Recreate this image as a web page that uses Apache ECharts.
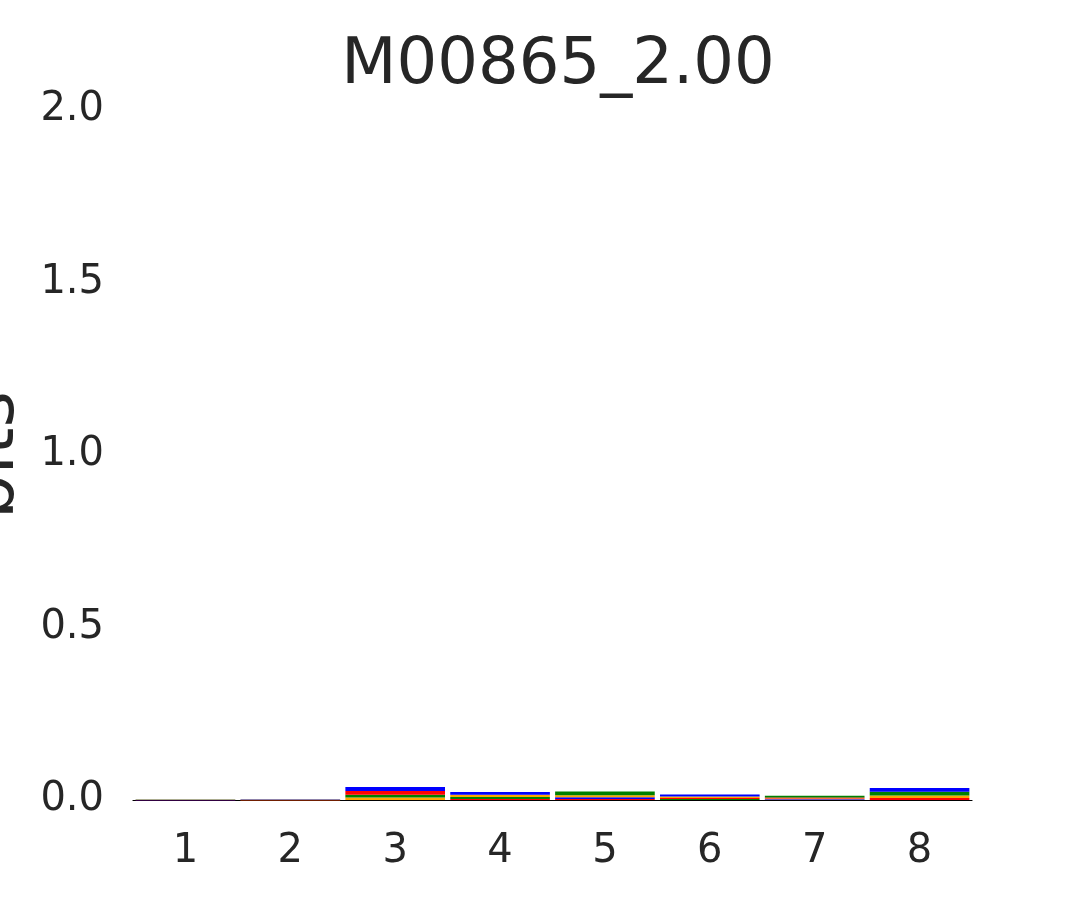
<!DOCTYPE html>
<html><head><meta charset="utf-8">
<script src="https://cdn.jsdelivr.net/npm/echarts@6/dist/echarts.min.js"></script>
<style>html,body{margin:0;padding:0;background:#fff}#c{width:1080px;height:900px}</style>
</head><body><div id="c"></div>
<script>
const positions = ['1','2','3','4','5','6','7','8'];
const letters = ['A','C','G','T'];
const colors = {A:'#008000', C:'#0000ff', G:'#ffa500', T:'#ff0000'};
// information content (bits) for each letter at each position
const A = [0.0004, 0.0003, 0.008, 0.006, 0.011, 0.003, 0.005, 0.011];
const C = [0.0003, 0.0003, 0.012, 0.008, 0.005, 0.006, 0.002, 0.011];
const G = [0.0004, 0.0002, 0.007, 0.006, 0.006, 0.004, 0.002, 0.007];
const T = [0.0002, 0.0002, 0.011, 0.003, 0.003, 0.003, 0.003, 0.006];
const yTicks = ['0.0','0.5','1.0','1.5','2.0'];

const data = positions.map((p, i) => [i, A[i], C[i], G[i], T[i]]);

const chart = echarts.init(document.getElementById('c'));
chart.setOption({
  backgroundColor: '#fff',
  animation: false,
  title: {text: 'M00865_2.00', left: 553, top: 29, textAlign: 'center',
    textStyle: {fontFamily: 'DejaVu Sans', fontSize: 64, fontWeight: 'normal', color: '#262626'}},
  grid: {left: 133, right: 108, top: 110, bottom: 100, outerBoundsMode: 'none', containLabel: false},
  xAxis: {type: 'category', data: positions,
    axisLine: {lineStyle: {color: '#000', width: 1.2}}, axisTick: {show: false},
    axisLabel: {fontFamily: 'DejaVu Sans', fontSize: 40, color: '#262626', margin: 32},
    splitLine: {show: false}},
  yAxis: {type: 'value', min: 0, max: 2, interval: 0.5,
    name: 'bits', nameLocation: 'middle', nameGap: 90, nameRotate: 90,
    nameTextStyle: {fontFamily: 'DejaVu Sans', fontSize: 70, color: '#262626'},
    axisLine: {show: false}, axisTick: {show: false}, splitLine: {show: false},
    axisLabel: {fontFamily: 'DejaVu Sans', fontSize: 40, color: '#262626', margin: 29,
      padding: [8, 0, 0, 0],
      formatter: (v) => yTicks[Math.round(v / 0.5)]}},
  series: [{
    type: 'custom',
    data: data,
    encode: {x: 0, y: [1, 2, 3, 4]},
    renderItem: function (params, api) {
      const i = api.value(0);
      const items = letters.map((L, k) => ({L, v: api.value(k + 1)}))
        .sort((a, b) => a.v - b.v);
      const bw = api.size([1, 0])[0] * 0.95;
      const cx = api.coord([i, 0])[0];
      let base = 0;
      const children = [];
      items.forEach(it => {
        const p0 = api.coord([i, base]);
        const p1 = api.coord([i, base + it.v]);
        children.push({type: 'rect',
          shape: {x: cx - bw / 2, y: p1[1], width: bw, height: Math.max(p0[1] - p1[1], 0.3)},
          style: {fill: colors[it.L]}});
        base += it.v;
      });
      return {type: 'group', children};
    }
  }]
});
</script></body></html>
